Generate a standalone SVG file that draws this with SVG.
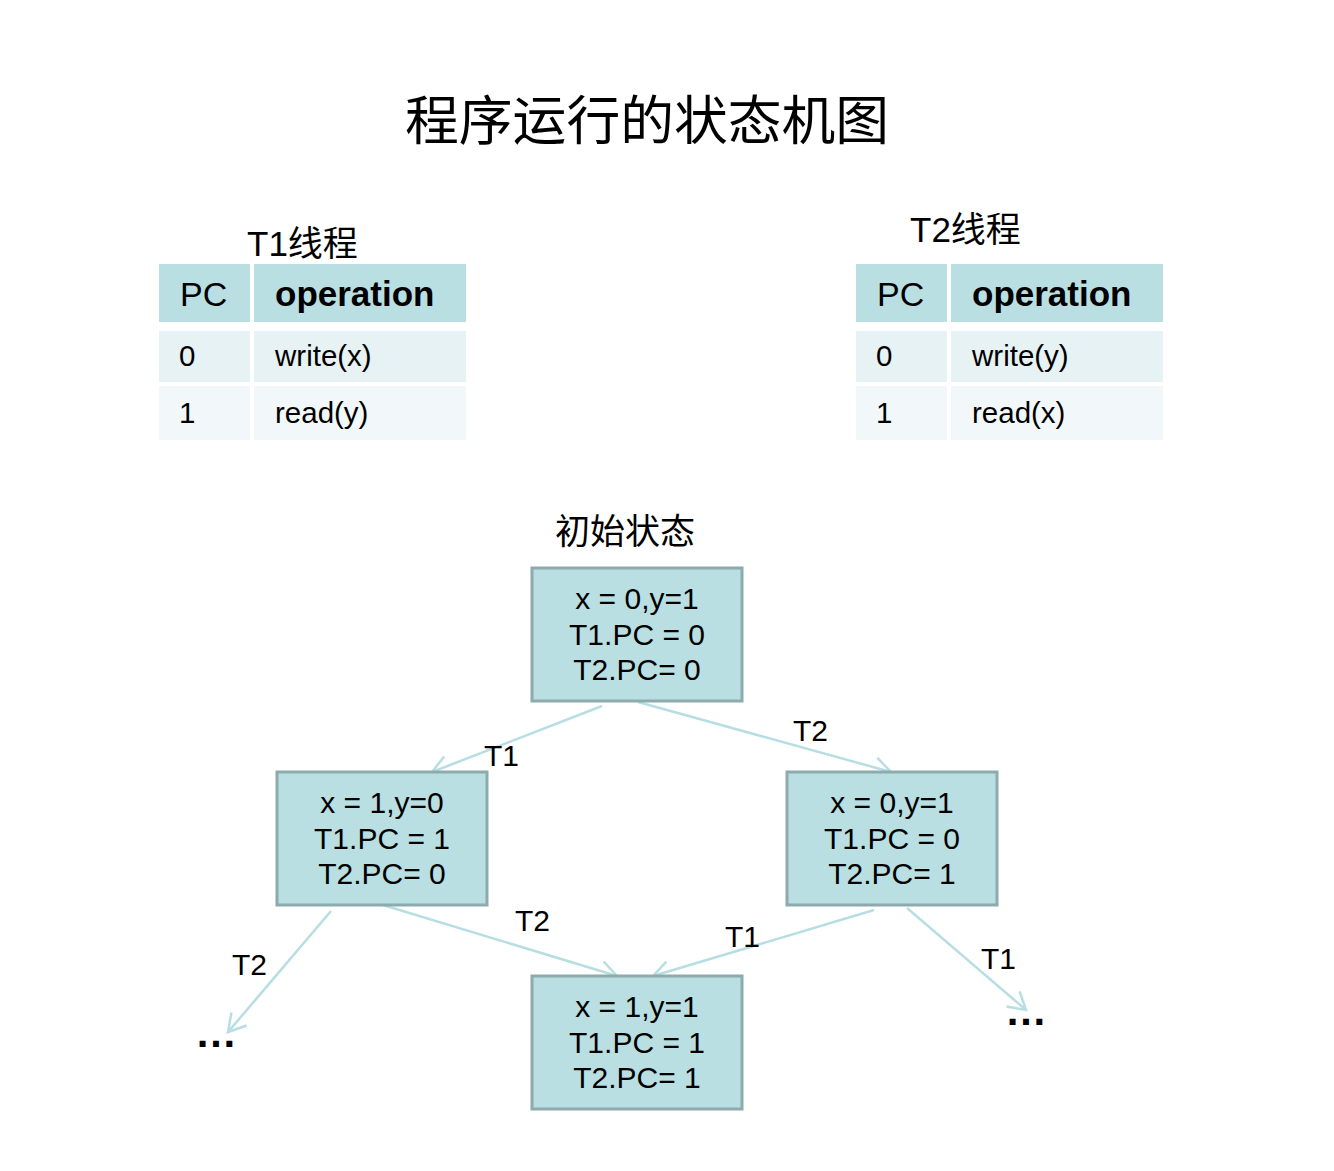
<svg xmlns="http://www.w3.org/2000/svg" width="1334" height="1171" viewBox="0 0 1334 1171">
<style>
.cjk{font-family:"Noto Sans CJK SC","Liberation Sans",sans-serif;fill:#000}
.t{font-family:"Liberation Sans",Arial,sans-serif;fill:#000}
.hdr{fill:#B9DFE3}
.r0{fill:#E6F2F4}
.r1{fill:#F2F8FA}
.th{font-size:34px}
.tb{font-size:35px;font-weight:bold}
.td{font-size:29.5px}
.node rect{fill:#B9DFE3;stroke:#8DAAAC;stroke-width:3}
.node text{font-family:"Liberation Sans",Arial,sans-serif;font-size:30px;text-anchor:middle;fill:#000}
.edge{stroke:#B7DEE2;stroke-width:2.5;fill:none;marker-end:url(#arr)}
.lbl{font-family:"Liberation Sans",Arial,sans-serif;font-size:30px;fill:#000}
.dots{font-family:"Liberation Sans",Arial,sans-serif;font-size:42px;font-weight:bold;fill:#000}
</style>
<defs>
<marker id="arr" markerUnits="userSpaceOnUse" markerWidth="24" markerHeight="24" refX="20" refY="10" orient="auto" overflow="visible">
<path d="M3,0 L20,10 L3,20" fill="none" stroke="#B7DEE2" stroke-width="2.5"/>
</marker>
</defs>
<rect width="1334" height="1171" fill="#fff"/>

<text class="cjk" x="405" y="140" font-size="53.8">程序运行的状态机图</text>

<g id="table-t1">
<text class="t" x="247" y="256" font-size="35">T1<tspan class="cjk">线程</tspan></text>
<rect class="hdr" x="159" y="264" width="91" height="58"/>
<rect class="hdr" x="254" y="264" width="212" height="58"/>
<rect class="r0" x="159" y="331" width="91" height="51"/>
<rect class="r0" x="254" y="331" width="212" height="51"/>
<rect class="r1" x="159" y="386" width="91" height="54"/>
<rect class="r1" x="254" y="386" width="212" height="54"/>
<text class="t th" x="180" y="306">PC</text>
<text class="t tb" x="275" y="306">operation</text>
<text class="t td" x="179" y="366">0</text>
<text class="t td" x="275" y="366">write(x)</text>
<text class="t td" x="179" y="423">1</text>
<text class="t td" x="275" y="423">read(y)</text>
</g>

<g id="table-t2">
<text class="t" x="910" y="242" font-size="35">T2<tspan class="cjk">线程</tspan></text>
<rect class="hdr" x="856" y="264" width="91" height="58"/>
<rect class="hdr" x="951" y="264" width="212" height="58"/>
<rect class="r0" x="856" y="331" width="91" height="51"/>
<rect class="r0" x="951" y="331" width="212" height="51"/>
<rect class="r1" x="856" y="386" width="91" height="54"/>
<rect class="r1" x="951" y="386" width="212" height="54"/>
<text class="t th" x="877" y="306">PC</text>
<text class="t tb" x="972" y="306">operation</text>
<text class="t td" x="876" y="366">0</text>
<text class="t td" x="972" y="366">write(y)</text>
<text class="t td" x="876" y="423">1</text>
<text class="t td" x="972" y="423">read(x)</text>
</g>

<text class="cjk" x="555" y="544" font-size="35">初始状态</text>

<g id="connectors">
<line class="edge" x1="602" y1="706" x2="432" y2="772"/>
<line class="edge" x1="638" y1="702" x2="891" y2="772"/>
<line class="edge" x1="383" y1="905" x2="617" y2="976"/>
<line class="edge" x1="874" y1="910" x2="653" y2="976"/>
<line class="edge" x1="331" y1="911" x2="228" y2="1032"/>
<line class="edge" x1="907" y1="908" x2="1026" y2="1010"/>
<text class="lbl" x="484" y="766">T1</text>
<text class="lbl" x="793" y="741">T2</text>
<text class="lbl" x="515" y="931">T2</text>
<text class="lbl" x="725" y="947">T1</text>
<text class="lbl" x="232" y="975">T2</text>
<text class="lbl" x="981" y="969">T1</text>
<text class="dots" x="195" y="1047">…</text>
<text class="dots" x="1005" y="1025">…</text>
</g>

<g id="node-init" class="node">
<rect x="532" y="568" width="210" height="133"/>
<text x="637" y="609">x = 0,y=1</text>
<text x="637" y="644.5">T1.PC = 0</text>
<text x="637" y="680">T2.PC= 0</text>
</g>
<g id="node-left" class="node">
<rect x="277" y="772" width="210" height="133"/>
<text x="382" y="813">x = 1,y=0</text>
<text x="382" y="848.5">T1.PC = 1</text>
<text x="382" y="884">T2.PC= 0</text>
</g>
<g id="node-right" class="node">
<rect x="787" y="772" width="210" height="133"/>
<text x="892" y="813">x = 0,y=1</text>
<text x="892" y="848.5">T1.PC = 0</text>
<text x="892" y="884">T2.PC= 1</text>
</g>
<g id="node-bottom" class="node">
<rect x="532" y="976" width="210" height="133"/>
<text x="637" y="1017">x = 1,y=1</text>
<text x="637" y="1052.5">T1.PC = 1</text>
<text x="637" y="1088">T2.PC= 1</text>
</g>
</svg>
